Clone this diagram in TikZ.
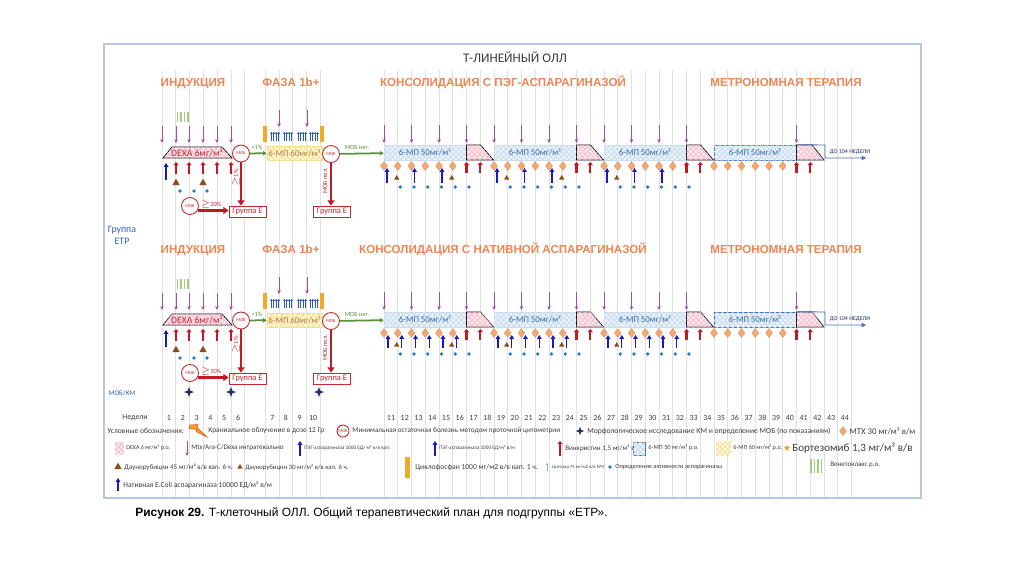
\documentclass[tikz,border=0pt]{standalone}
\usepackage{fontspec}
\setmainfont{Carlito}
\newfontfamily\arialfont{Liberation Sans}
\usetikzlibrary{arrows.meta,patterns,shapes.geometric}

\definecolor{phasecol}{RGB}{236,134,82}
\definecolor{gridcol}{RGB}{224,224,230}
\definecolor{framecol}{RGB}{185,198,222}
\definecolor{dexafill}{RGB}{253,232,238}
\definecolor{dexapat}{RGB}{246,188,205}
\definecolor{mpfill}{RGB}{236,244,251}
\definecolor{mppat}{RGB}{200,218,236}
\definecolor{mpline}{RGB}{205,222,240}
\definecolor{mptext}{RGB}{50,110,180}
\definecolor{mpyfill}{RGB}{255,250,225}
\definecolor{mpypat}{RGB}{246,222,140}
\definecolor{mpytext}{RGB}{190,120,60}
\definecolor{purpcol}{RGB}{160,80,160}
\definecolor{vinccol}{RGB}{195,25,35}
\definecolor{pegcol}{RGB}{25,25,190}
\definecolor{daunocol}{RGB}{140,75,25}
\definecolor{dotcol}{RGB}{30,125,195}
\definecolor{mtxfill}{RGB}{242,170,115}
\definecolor{mtxline}{RGB}{220,140,90}
\definecolor{mobcol}{RGB}{195,40,45}
\definecolor{greencol}{RGB}{90,145,55}
\definecolor{cyclocol}{RGB}{242,170,40}
\definecolor{cytacol}{RGB}{40,90,180}
\definecolor{starcol}{RGB}{35,50,95}
\definecolor{lblblue}{RGB}{40,100,170}
\definecolor{metcol}{RGB}{70,110,190}
\definecolor{venetcol}{RGB}{160,205,130}
\definecolor{lgdtext}{RGB}{60,60,60}
\definecolor{boltfill}{RGB}{245,160,40}
\definecolor{boltline}{RGB}{220,80,30}

\tikzset{
  phase/.style={anchor=base, font=\arialfont\bfseries\fontsize{6.6}{7}\selectfont, text=phasecol},
  lgd/.style={anchor=west, font=\fontsize{#1}{#1}\selectfont, text=lgdtext},
  lgd/.default=4,
  weeklbl/.style={font=\fontsize{4.5}{5}\selectfont, text=lgdtext},
  dexa/.style={fill=dexafill, postaction={pattern=crosshatch, pattern color=dexapat}},
  mp50/.style={fill=mpfill, postaction={pattern=crosshatch, pattern color=mppat}},
  mp60/.style={fill=mpyfill, postaction={pattern=crosshatch, pattern color=mpypat}},
  mp50box/.style={mp50, draw=mpline, line width=0.3pt, minimum width=1.64cm,
    minimum height=0.3cm, font=\fontsize{5}{5}\selectfont, text=mptext},
  mp60box/.style={mp60, draw=mpypat, line width=0.3pt, minimum width=1.1cm,
    minimum height=0.28cm, font=\fontsize{5}{5}\selectfont, text=mpytext},
  purpar/.style={-{Stealth[length=2.2pt,width=2pt]}, purpcol, line width=0.5pt},
  vinc/.style={-{Triangle[length=1.8pt,width=3pt]}, vinccol, line width=1.3pt},
  peg/.style={-{Triangle[length=2.2pt,width=2.6pt]}, pegcol, line width=0.9pt},
  cyta/.style={-{Triangle[length=1pt,width=1.4pt]}, cytacol, line width=0.35pt},
  mobarr/.style={-{Triangle[length=3pt,width=4pt]}, vinccol, line width=1.5pt},
  greenarr/.style={-{Triangle[length=2.2pt,width=2.5pt]}, greencol, line width=1pt},
  metline/.style={metcol, line width=0.5pt},
  mob/.style={circle, draw=mobcol, line width=0.5pt, fill=white, minimum size=0.34cm,
    font=\fontsize{2.6}{3}\selectfont, text=mobcol},
  grpbox/.style={draw=mobcol, fill=white, line width=0.5pt, minimum width=0.74cm,
    minimum height=0.22cm, font=\fontsize{4.8}{5}\selectfont, text=mobcol},
  pct/.style={font=\fontsize{3.6}{4}\selectfont, text=mobcol},
  pctg/.style={font=\fontsize{3.6}{4}\selectfont, text=greencol},
  mtx/.style={diamond, fill=mtxfill, draw=mtxline, line width=0.2pt,
    minimum width=0.14cm, minimum height=0.18cm},
  dauno45/.style={regular polygon, regular polygon sides=3, fill=daunocol, minimum size=0.17cm},
  dauno30/.style={regular polygon, regular polygon sides=3, fill=daunocol, minimum size=0.12cm},
  dot/.style={circle, fill=dotcol, minimum size=0.075cm},
  morph/.style={star, star points=4, star point ratio=2.6, fill=starcol, minimum size=0.2cm},
  cyclo/.style={fill=cyclocol},
  venet/.style={venetcol, line width=0.6pt}
}

\begin{document}
\begin{tikzpicture}[x=0.02cm,y=-0.02cm,every node/.append style={inner sep=0pt}]
  \useasboundingbox (0,0) rectangle (1024,576);
  % frame and week grid
  \draw[framecol, line width=0.6pt] (104,44) rectangle (921,498);
  \foreach \x in {162,175.8,...,245} \draw[gridcol] (\x,70) -- (\x,497);
  \foreach \x in {265.5,279.1,...,321} \draw[gridcol] (\x,70) -- (\x,497);
  \foreach \k in {0,...,34} \draw[gridcol] (384+13.75*\k,70) -- (384+13.75*\k,497);
  \node[font=\fontsize{7.5}{8}\selectfont, text=lgdtext] (title) at (515,57) {Т-ЛИНЕЙНЫЙ ОЛЛ};

  % both schemes
  \foreach \r/\dy/\cons in {1/0/{КОНСОЛИДАЦИЯ С ПЭГ-АСПАРАГИНАЗОЙ},2/167/{КОНСОЛИДАЦИЯ С НАТИВНОЙ АСПАРАГИНАЗОЙ}}{
  \begin{scope}[shift={(0,\dy)}]
    \node[phase] (ind\r) at (193,86.5) {ИНДУКЦИЯ};
    \node[phase] (f1b\r) at (291,86.5) {ФАЗА 1b+};
    \node[phase] (cons\r) at (503,86.5) {\cons};
    \node[phase] (metr\r) at (786,86.5) {МЕТРОНОМНАЯ ТЕРАПИЯ};
    % induction
    \foreach \x in {177.5,181,184.5,188} \draw[venet] (\x,112) -- (\x,122);
    \foreach \x in {162,176,189,203,217,231} \draw[purpar] (\x,126) -- (\x,143);
    \draw[dexa] (163,158) -- (172,147) -- (222,147) -- (232,158) -- cycle;
    \node[font=\fontsize{5.5}{6}\selectfont, text=mobcol] (dexa\r) at (197,152.5) {DEXA 6мг/м²};
    \foreach \x in {176,189,203,217,231} \draw[vinc] (\x,174) -- (\x,162);
    \draw[peg] (166,180) -- (166,163);
    \foreach \x in {176,203} \node[dauno45] (d45-\r-\x) at (\x,183) {};
    \foreach \x [count=\i] in {180,194,207} \node[dot] (idot-\r-\i) at (\x,191) {};
    \node[mob] (mob1-\r) at (241,153.5) {МОБ};
    \node[mob] (mob3-\r) at (190,206) {МОБ};
    \node[grpbox] (grpE1-\r) at (247.5,211.5) {Группа Е};
    \draw[mobarr] (mob1-\r) -- (mob1-\r |- grpE1-\r.north);
    \node[pct, rotate=90] (p1-\r) at (236,178) {$\geq$1\%};
    \draw[mobarr] (mob3-\r.-30) -- (mob3-\r.-30 -| grpE1-\r.west);
    \node[pct] (p30-\r) at (211,204) {$\geq$30\%};
    % phase 1b
    \foreach \x in {279,307} \draw[purpar] (\x,110) -- (\x,127);
    \foreach \x in {265,322} \fill[cyclo] (\x-2,126) rectangle (\x+2,142);
    \foreach \c in {275,288,302,314}
      \foreach \d in {-3.6,-1.2,1.2,3.6} \draw[cyta] (\c+\d,141) -- (\c+\d,132);
    \node[mp60box] (mp60-\r) at (294.5,153) {6-МП 60мг/м²};
    \node[mob] (mob2-\r) at (331,154) {МОБ};
    \draw[greenarr] (mob1-\r) -- (mp60-\r);
    \node[pctg] (p2-\r) at (257,147.5) {<1\%};
    \node[grpbox] (grpE2-\r) at (332,211.5) {Группа Е};
    \draw[mobarr] (mob2-\r) -- (mob2-\r |- grpE2-\r.north);
    \node[pct, rotate=90] (p3-\r) at (325,181) {МОБ пол.};
    % consolidation and metronomic therapy
    \foreach \k [count=\i] in {0,8,16} \node[mp50box] (mp50-\r-\i) at (425+13.75*\k,152.5) {6-МП 50мг/м²};
    \node[mp50box, draw=metcol] (mp50-\r-4) at (755,152.5) {6-МП 50мг/м²};
    \draw[greenarr] (mob2-\r) -- (mp50-\r-1);
    \node[pctg] (p4-\r) at (357,147) {МОБ нег.};
    \foreach \k in {6,14,22}
      \draw[dexa] (384+13.75*\k,145) -- (398+13.75*\k,145) -- (411+13.75*\k,160) -- (384+13.75*\k,160) -- cycle;
    \draw[dexa] (796.5,145) -- (812,145) -- (824,160) -- (796.5,160) -- cycle;
    \draw[metline, -{Triangle[length=2.5pt,width=2.5pt]}] (mp50-\r-4.north east) -- (825,145) -- (825,158) -- (866,158);
    \node[font=\fontsize{3.4}{4}\selectfont, text=starcol] (end-\r) at (850,152) {ДО 104 НЕДЕЛИ};
    \foreach \k in {0,2,...,22} \draw[purpar] (384+13.75*\k,125) -- (384+13.75*\k,143);
    \draw[purpar] (796.5,125) -- (796.5,143);
    \foreach \b in {0,8,16,24}{
      \foreach \j in {0,...,5}{
        \pgfmathsetmacro\x{384+13.75*(\b+\j)}
        \node[mtx] (mtx-\r-\b-\j) at (\x,166) {};
      }}
    \foreach \k in {6,7,14,15,22,23,30,31} \draw[vinc] (384+13.75*\k,173) -- (384+13.75*\k,162);
    \foreach \k in {1,5,9,13,17} \node[dauno30] (d30-\r-\k) at (383+13.75*\k,178) {};
    \foreach \b in {0,8,16}{
      \foreach \j in {1,...,6}{
        \pgfmathsetmacro\x{386.5+13.75*(\b+\j)}
        \node[dot] (dot-\r-\b-\j) at (\x,187) {};
      }}
    \ifnum\r=1
      \foreach \b in {0,8,16}{
        \foreach \j in {0,2,4}{
          \pgfmathsetmacro\x{387+13.75*(\b+\j)}
          \draw[peg] (\x,183) -- (\x,168);
        }}
    \else
      \foreach \b in {0,8,16}{
        \foreach \j in {0,...,5}{
          \pgfmathsetmacro\x{388+13.75*(\b+\j)}
          \draw[peg, line width=0.7pt] (\x,181) -- (\x,168);
        }}
    \fi
  \end{scope}}

  % ETP group and marrow checks
  \node[align=center, font=\fontsize{5.6}{7}\selectfont, text=lblblue] (etp) at (122,235) {Группа\\ETP};
  \node[font=\fontsize{4}{5}\selectfont, text=lblblue] (mobkm) at (122,393) {МОБ/КМ};
  \foreach \x [count=\i] in {189,231,319} \node[morph] (star\i) at (\x,392) {};

  % weeks
  \node[weeklbl] (weeks) at (135,418) {Недели};
  \foreach \n in {1,...,6} \node[weeklbl] (w\n) at (155.2+13.8*\n,418) {\n};
  \foreach \n in {7,...,10} \node[weeklbl] (w\n) at (177.1+13.6*\n,418) {\n};
  \foreach \n in {11,...,44} \node[weeklbl] (w\n) at (239.75+13.75*\n,418) {\n};

  % legend
  \node[lgd=4.3] (l0) at (107,431) {Условные обозначения:};
  \filldraw[fill=boltfill, draw=boltline, line width=0.3pt] (190,425) -- (198,424.5) -- (197.5,428)
    -- (207,437) -- (196,431.5) -- (196.5,429.5) -- (189,428.5) -- cycle;
  \node[lgd=4.2] (l1) at (208,431) {Краниальное облучение в дозе 12 Гр};
  \node[mob, minimum size=0.24cm] (lmob) at (343,431) {МОБ};
  \node[lgd=4.1] (l2) at (352,431) {Минимальная остаточная болезнь методом проточной цитометрии};
  \node[morph, minimum size=0.17cm] (lstar) at (580,431) {};
  \node[lgd=4.35] (l3) at (587,431) {Морфологическое исследование КМ и определение МОБ (по показаниям)};
  \node[mtx] (lmtx) at (843,431) {};
  \node[lgd=5] (l4) at (849,431) {МТХ 30 мг/м² в/м};

  \fill[dexa] (115,442) rectangle (124,454);
  \node[lgd=3.4] (l5) at (126,448) {DEXA 6 мг/м² р.о.};
  \draw[purpar] (187,441) -- (187,456);
  \node[lgd=4] (l6) at (191,448) {Mtx/Ara-C/Dexa интратекально};
  \draw[peg] (300,456) -- (300,441);
  \node[lgd=3] (l7) at (304,448) {ПЭГ-аспарагиназа 1000 ЕД/ м² в/в кап.};
  \draw[peg] (435,456) -- (435,441);
  \node[lgd=3] (l8) at (439,448) {ПЭГ-аспарагиназа 1000 ЕД/м² в/м};
  \draw[vinc] (560,456) -- (560,441);
  \node[lgd=4] (l9) at (565,448) {Винкристин 1,5 мг/м² в/в};
  \draw[mp50, draw=metcol, line width=0.3pt] (633,442) rectangle (645,455);
  \node[lgd=3.6] (l10) at (648,448) {6-МП 50 мг/м² р.о.};
  \fill[mp60] (716,441) rectangle (731,455);
  \node[lgd=3.5] (l11) at (733,448) {6-МП 60 мг/м² р.о.};
  \node[star, star points=5, star point ratio=2.4, fill=boltfill, minimum size=0.14cm] (lbort) at (787,448) {};
  \node[lgd=6.3] (l12) at (792,448) {Бортезомиб 1,3 мг/м² в/в};

  \node[dauno45] (ld45) at (118,467) {};
  \node[lgd=4] (l13) at (124,467) {Даунорубицин 45 мг/м² в/в кап. 6 ч.};
  \node[dauno30] (ld30) at (240,467) {};
  \node[lgd=3.8] (l14) at (245,467) {Даунорубицин 30 мг/м² в/в кап. 6 ч.};
  \fill[cyclo] (405,457) rectangle (410,478);
  \node[lgd=4.3] (l15) at (415,467) {Циклофосфан 1000 мг/м2 в/в кап. 1 ч.};
  \draw[cyta, dotcol!60] (547,471) -- (547,463);
  \node[lgd=2.7] (l16) at (552,467) {Цитозар 75 мг/м2 в/в №4};
  \node[dot] (ldot) at (610,467) {};
  \node[lgd=3.6] (l17) at (615,467) {Определение активности аспарагиназы};
  \foreach \x in {811,814.5,818,821.5} \draw[venet] (\x,459) -- (\x,473);
  \node[lgd=4] (l18) at (830,465) {Венетоклакс р.о.};

  \draw[peg] (118,491) -- (118,478);
  \node[lgd=4.3] (l19) at (123,485) {Нативная E.Coli аспарагиназа 10000 ЕД/м² в/м};

  % caption
  \node[anchor=west, font=\arialfont\fontsize{6.8}{8}\selectfont] (cap) at (135,513)
    {\textbf{Рисунок 29.} Т-клеточный ОЛЛ. Общий терапевтический план для подгруппы «ЕТР».};
\end{tikzpicture}
\end{document}
